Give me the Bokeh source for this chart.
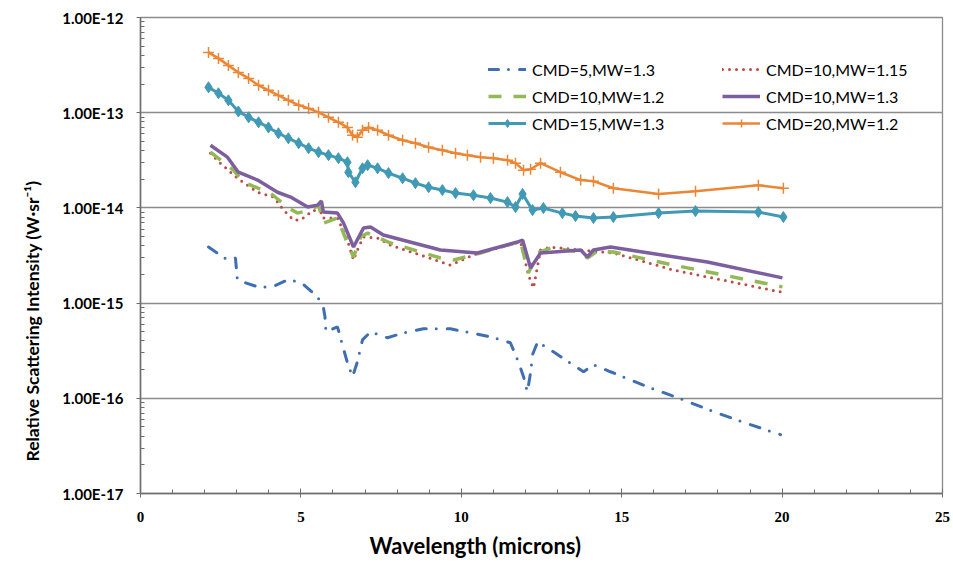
from bokeh.plotting import figure
from bokeh.models import (Range1d, FixedTicker, SingleIntervalTicker, CustomJSTickFormatter,
                          Legend, LegendItem, Title)
from bokeh.embed import file_html
from bokeh.resources import INLINE

# ---------------- data ----------------
x_cmd5_13 = [2.12, 2.71, 2.96, 3.02, 3.65, 4.11, 4.58, 4.99, 5.52, 5.70, 5.75, 5.78, 6.14, 6.45, 6.61,
             6.76, 6.92, 7.17, 7.70, 8.20, 8.82, 9.66, 10.91, 11.53, 11.78, 11.94, 12.06, 12.16, 12.22,
             12.38, 12.87, 13.81, 14.12, 14.65, 15.80, 16.83, 17.86, 19.01, 19.95]
y_cmd5_13 = [3.88e-15, 2.84e-15, 2.98e-15, 1.75e-15, 1.48e-15, 1.48e-15, 1.75e-15, 1.67e-15, 1.16e-15,
             9.12e-16, 7.17e-16, 4.99e-16, 5.63e-16, 2.36e-16, 1.68e-16, 2.42e-16, 4.11e-16, 4.99e-16,
             4.32e-16, 4.87e-16, 5.37e-16, 5.37e-16, 4.42e-16, 3.83e-16, 2.42e-16, 1.68e-16, 1.17e-16,
             1.86e-16, 2.87e-16, 3.92e-16, 3.08e-16, 1.90e-16, 2.25e-16, 1.90e-16, 1.32e-16, 9.91e-17,
             7.24e-17, 5.29e-17, 4.15e-17]

x_cmd10_115 = [2.18, 2.49, 3.02, 3.65, 4.15, 4.46, 4.77, 4.99, 5.39, 5.67, 5.70, 6.14, 6.45, 6.64, 6.80,
               6.95, 7.39, 7.79, 9.66, 10.38, 11.44, 11.85, 12.09, 12.25, 12.47, 12.78, 13.72, 14.74,
               16.61, 19.95]
y_cmd10_115 = [3.75e-14, 2.95e-14, 2.05e-14, 1.46e-14, 1.30e-14, 9.48e-15, 7.45e-15, 7.45e-15, 9.48e-15,
               8.82e-15, 7.82e-15, 7.82e-15, 4.60e-15, 2.84e-15, 3.88e-15, 4.94e-15, 4.83e-15, 4.07e-15,
               2.51e-15, 3.20e-15, 4.07e-15, 4.38e-15, 1.98e-15, 1.44e-15, 3.61e-15, 3.88e-15, 3.61e-15,
               3.36e-15, 2.23e-15, 1.31e-15]

x_cmd10_12 = [2.18, 2.90, 3.21, 4.05, 4.58, 4.89, 5.30, 5.55, 5.70, 6.14, 6.45, 6.64, 6.86, 7.08, 7.79,
              9.35, 9.76, 10.38, 11.44, 11.85, 12.09, 12.38, 12.78, 13.72, 13.93, 14.25, 14.74, 16.61,
              19.73, 20.01]
y_cmd10_12 = [3.85e-14, 2.49e-14, 1.86e-14, 1.43e-14, 1.02e-14, 8.82e-15, 9.48e-15, 1.07e-14, 6.93e-15,
              7.82e-15, 4.28e-15, 3.05e-15, 4.94e-15, 5.44e-15, 4.28e-15, 2.98e-15, 2.84e-15, 3.20e-15,
              4.07e-15, 4.38e-15, 2.07e-15, 3.36e-15, 3.79e-15, 3.44e-15, 2.98e-15, 3.53e-15, 3.44e-15,
              2.51e-15, 1.55e-15, 1.48e-15]

x_cmd10_13 = [2.18, 2.71, 3.05, 3.65, 4.27, 4.68, 5.21, 5.52, 5.64, 5.70, 6.14, 6.33, 6.64, 6.95, 7.17,
              7.57, 9.35, 10.50, 11.75, 11.91, 12.16, 12.47, 13.72, 13.93, 14.12, 14.65, 17.67, 20.01]
y_cmd10_13 = [4.55e-14, 3.41e-14, 2.37e-14, 1.96e-14, 1.46e-14, 1.30e-14, 1.02e-14, 1.07e-14, 1.18e-14,
              9.04e-15, 8.82e-15, 6.93e-15, 3.88e-15, 6.14e-15, 6.29e-15, 5.19e-15, 3.61e-15, 3.36e-15,
              4.38e-15, 4.60e-15, 2.34e-15, 3.36e-15, 3.61e-15, 3.05e-15, 3.61e-15, 3.88e-15, 2.70e-15,
              1.84e-15]

x_cmd15_13 = [2.12, 2.43, 2.74, 3.05, 3.37, 3.68, 3.99, 4.30, 4.61, 4.93, 5.24, 5.55, 5.86, 6.17, 6.45,
              6.48, 6.70, 6.92, 7.08, 7.39, 7.73, 8.17, 8.57, 8.98, 9.41, 9.82, 10.38, 10.91, 11.44,
              11.69, 11.91, 12.22, 12.56, 13.15, 13.56, 14.12, 14.74, 16.15, 17.30, 19.26, 20.04]
y_cmd15_13 = [1.85e-13, 1.60e-13, 1.35e-13, 1.03e-13, 8.95e-14, 7.93e-14, 7.00e-14, 6.08e-14, 5.39e-14,
              4.78e-14, 4.24e-14, 3.85e-14, 3.58e-14, 3.33e-14, 3.02e-14, 2.37e-14, 1.86e-14, 2.61e-14,
              2.81e-14, 2.61e-14, 2.32e-14, 2.05e-14, 1.82e-14, 1.65e-14, 1.54e-14, 1.43e-14, 1.36e-14,
              1.27e-14, 1.15e-14, 1.02e-14, 1.40e-14, 9.48e-15, 9.95e-15, 8.82e-15, 8.21e-15, 7.82e-15,
              8.01e-15, 8.82e-15, 9.26e-15, 9.04e-15, 8.01e-15]

x_cmd20_12 = [2.12, 2.43, 2.74, 3.05, 3.37, 3.68, 3.99, 4.30, 4.61, 4.93, 5.24, 5.55, 5.86, 6.17, 6.45,
              6.61, 6.76, 6.92, 7.11, 7.39, 7.73, 8.17, 8.57, 8.98, 9.41, 9.82, 10.19, 10.60, 11.00,
              11.44, 11.69, 11.94, 12.16, 12.47, 13.09, 13.72, 14.12, 14.74, 16.15, 17.30, 19.26, 20.04]
y_cmd20_12 = [4.30e-13, 3.72e-13, 3.14e-13, 2.65e-13, 2.29e-13, 1.94e-13, 1.72e-13, 1.52e-13, 1.35e-13,
              1.20e-13, 1.11e-13, 1.01e-13, 8.95e-14, 7.93e-14, 7.00e-14, 5.80e-14, 5.52e-14, 6.54e-14,
              7.00e-14, 6.54e-14, 5.80e-14, 5.14e-14, 4.78e-14, 4.34e-14, 4.04e-14, 3.75e-14, 3.58e-14,
              3.41e-14, 3.33e-14, 3.17e-14, 2.95e-14, 2.49e-14, 2.55e-14, 2.95e-14, 2.37e-14, 1.96e-14,
              1.91e-14, 1.61e-14, 1.40e-14, 1.50e-14, 1.73e-14, 1.61e-14]

labels = ["CMD=5,MW=1.3", "CMD=10,MW=1.15", "CMD=10,MW=1.2",
          "CMD=10,MW=1.3", "CMD=15,MW=1.3", "CMD=20,MW=1.2"]
y_major = [1e-17, 1e-16, 1e-15, 1e-14, 1e-13, 1e-12]

# ---------------- figure ----------------
FONT = "Lato"
p = figure(width=953, height=564, y_axis_type="log",
           x_range=Range1d(0, 25), y_range=Range1d(1e-17, 1e-12),
           output_backend="svg", toolbar_location=None,
           min_border_left=140, min_border_right=11, min_border_top=17, min_border_bottom=70)
p.title.visible = False
p.background_fill_color = "white"
p.border_fill_color = "white"
p.outline_line_color = "#8C8C8C"
p.outline_line_width = 1.3

p.xgrid.visible = False
p.ygrid.grid_line_color = "#8C8C8C"
p.ygrid.grid_line_width = 1.3
p.ygrid.minor_grid_line_color = None

p.xaxis.ticker = SingleIntervalTicker(interval=5, num_minor_ticks=5)
p.yaxis.ticker = FixedTicker(ticks=y_major,
                             minor_ticks=[m * 10.0 ** e for e in range(-17, -12) for m in range(2, 10)])
p.yaxis.formatter = CustomJSTickFormatter(code="return tick.toExponential(2).toUpperCase();")

for ax in (p.xaxis[0], p.yaxis[0]):
    ax.axis_line_color = "#6E6E6E"
    ax.axis_line_width = 1.5
    ax.major_tick_line_color = "#6E6E6E"
    ax.minor_tick_line_color = "#6E6E6E"
    ax.major_label_text_color = "black"

p.xaxis.major_tick_in = 5
p.xaxis.major_tick_out = 4
p.xaxis.minor_tick_in = 4
p.xaxis.minor_tick_out = 0
p.xaxis.major_label_standoff = 14
p.xaxis.major_label_text_font = "Liberation Serif"
p.xaxis.major_label_text_font_style = "bold"
p.xaxis.major_label_text_font_size = "15px"

p.yaxis.major_tick_in = 0
p.yaxis.major_tick_out = 4
p.yaxis.minor_tick_in = 4
p.yaxis.minor_tick_out = 0
p.yaxis.major_label_standoff = 13
p.yaxis.major_label_text_font = FONT
p.yaxis.major_label_text_font_style = "bold"
p.yaxis.major_label_text_font_size = "15px"

p.add_layout(Title(text="Relative Scattering Intensity (W\u00b7sr\u207b\u00b9)", align="left", offset=32,
                   text_font=FONT, text_font_style="bold", text_font_size="17.5px",
                   text_color="black", standoff=33), "left")
p.add_layout(Title(text="Wavelength (microns)", align="left", offset=229,
                   text_font=FONT, text_font_style="bold", text_font_size="22px",
                   text_color="black", standoff=11), "below")

# ---------------- series ----------------
r5 = p.line(x_cmd5_13, y_cmd5_13, line_color="#3F6FB2", line_width=3,
            line_dash="10 10 0 11", line_cap="round")
r115 = p.line(x_cmd10_115, y_cmd10_115, line_color="#BE4B48", line_width=3,
              line_dash="0 7", line_cap="round")
r12 = p.line(x_cmd10_12, y_cmd10_12, line_color="#93B956", line_width=3.5,
             line_dash="13 12")
r13 = p.line(x_cmd10_13, y_cmd10_13, line_color="#7D5FA0", line_width=3.5)
r15l = p.line(x_cmd15_13, y_cmd15_13, line_color="#4099B5", line_width=3)
r15m = p.scatter(x_cmd15_13, y_cmd15_13, marker="diamond", size=11,
                 fill_color="#4099B5", line_color="#4099B5")
r20l = p.line(x_cmd20_12, y_cmd20_12, line_color="#EB8634", line_width=2.5)
r20m = p.scatter(x_cmd20_12, y_cmd20_12, marker="cross", size=11,
                 line_color="#EB8634", line_width=1.5)

def make_legend(items, loc):
    lg = Legend(items=items, location=loc, orientation="vertical",
                glyph_width=38, glyph_height=20, label_height=20, spacing=7,
                padding=0, margin=0, label_standoff=6,
                label_text_font=FONT, label_text_font_size="16px", label_text_color="black",
                border_line_alpha=0, background_fill_alpha=0)
    return lg

leg1 = make_legend([LegendItem(label=labels[0], renderers=[r5]),
                    LegendItem(label=labels[2], renderers=[r12]),
                    LegendItem(label=labels[4], renderers=[r15l, r15m])], (348, 360))
leg2 = make_legend([LegendItem(label=labels[1], renderers=[r115]),
                    LegendItem(label=labels[3], renderers=[r13]),
                    LegendItem(label=labels[5], renderers=[r20l, r20m])], (582, 360))
p.add_layout(leg1)
p.add_layout(leg2)

open("out.html", "w").write(file_html(p, INLINE))
